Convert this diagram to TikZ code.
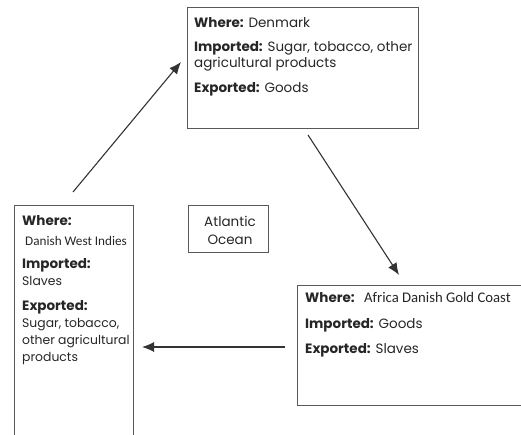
\documentclass[tikz,border=0pt]{standalone}
\usepackage{fontspec}
\usetikzlibrary{arrows.meta}
\setmainfont{Poppins}
\newfontfamily\calfont{Carlito}
\begin{document}
\begin{tikzpicture}[x=1pt,y=-1pt,
  box/.style={draw=black!65,line width=1.4pt,inner sep=0pt,anchor=north west},
  txt/.style={anchor=base west,inner sep=0pt,font=\fontsize{13.5}{15}\selectfont,text=black!85},
  small/.style={txt,font=\fontsize{12.4}{15}\selectfont},
  cal/.style={txt,font=\calfont\fontsize{13.2}{15}\selectfont},
  arr/.style={draw=black!80,line width=1.1pt,-{Latex[length=12pt,width=10pt]}}]
\useasboundingbox (0,0) rectangle (521,435);
\clip (0,0) rectangle (521,435);
% boxes
\node[box,minimum width=231pt,minimum height=121pt] (dk) at (187,7) {};
\node[box,minimum width=119pt,minimum height=250pt] (wi) at (14,205) {};
\node[box,minimum width=240pt,minimum height=120pt] (af) at (297,285) {};
\node[box,minimum width=80pt,minimum height=47pt] (oc) at (188,205) {};
% Denmark text
\node[txt] (dk1) at (194,28) {\textbf{Where:} Denmark};
\node[txt] (dk2) at (194,52) {\textbf{Imported:} Sugar, tobacco, other};
\node[txt] (dk3) at (194,68) {agricultural products};
\node[txt] (dk4) at (194,93) {\textbf{Exported:} Goods};
% West Indies text
\node[txt] (wi1) at (22,226) {\textbf{Where:}};
\node[cal] (wi2) at (25,246) {Danish West Indies};
\node[txt] (wi3) at (22,268) {\textbf{Imported:}};
\node[small] (wi4) at (22,285) {Slaves};
\node[txt] (wi5) at (22,310) {\textbf{Exported:}};
\node[small] (wi6) at (22,327) {Sugar, tobacco,};
\node[small] (wi7) at (22,344) {other agricultural};
\node[small] (wi8) at (22,361) {products};
% Africa text
\node[txt] (af1) at (305,302) {\textbf{Where:}};
\node[cal,font=\calfont\fontsize{14.7}{15}\selectfont] (af1b) at (364,302) {Africa Danish Gold Coast};
\node[txt] (af2) at (305,328) {\textbf{Imported:} Goods};
\node[txt] (af3) at (305,353) {\textbf{Exported:} Slaves};
% Ocean text
\node[txt,anchor=base] (oc1) at (230,227) {Atlantic};
\node[txt,anchor=base] (oc2) at (230,245) {Ocean};
% arrows
\coordinate (a1s) at (73,192);
\coordinate (a1e) at (181,62);
\coordinate (a2s) at (308,135);
\coordinate (a2e) at (399,275);
\coordinate (a3s) at (285,347);
\coordinate (a3e) at (142,347);
\draw[arr] (a1s) -- (a1e);
\draw[arr] (a2s) -- (a2e);
\draw[arr] (a3s) -- (a3e);
\end{tikzpicture}
\end{document}
